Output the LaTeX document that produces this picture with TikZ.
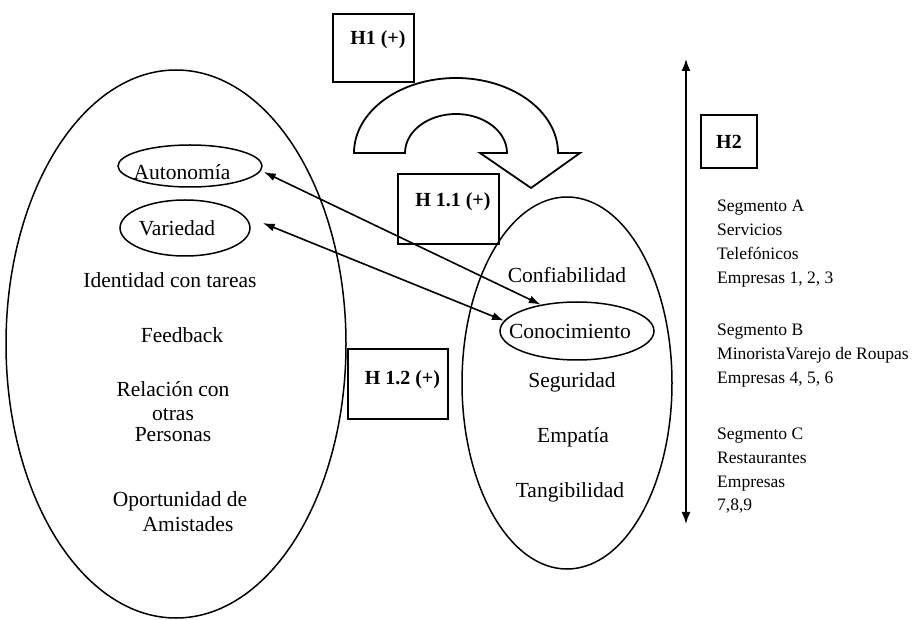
\documentclass[tikz,border=0pt]{standalone}
\usepackage{fontspec}
\setmainfont{Liberation Serif}
\usetikzlibrary{arrows.meta,shapes.geometric}
\begin{document}
\begin{tikzpicture}[x=1pt,y=1pt,
  lbl/.style={font=\fontsize{21.5}{25}\selectfont, align=center, inner sep=0pt},
  oval/.style={draw, ellipse, line width=1.5pt, inner sep=0pt},
  hbox/.style={draw, line width=1.8pt, font=\fontsize{20}{24}\selectfont\bfseries, inner xsep=0pt, anchor=north west},
  seg/.style={font=\fontsize{17.5}{24}\selectfont, align=left, inner sep=0pt, anchor=base west},
  dbl/.style={line width=1.6pt, {Latex[length=12pt,width=8pt]}-{Latex[length=12pt,width=8pt]}}
]
\useasboundingbox (0,0) rectangle (916,619);

% big ellipses
\node[oval, minimum width=340pt, minimum height=548pt] (jobs) at (176,275) {};
\node[oval, minimum width=210pt, minimum height=372pt] (serv) at (567,236) {};

% left items
\node[oval, minimum width=144pt, minimum height=42pt,
      label={[lbl, xshift=-8pt, yshift=-6pt]center:Autonomía}] (auto) at (190,453) {};
\node[oval, minimum width=130pt, minimum height=56pt,
      label={[lbl, xshift=-8pt]center:Variedad}] (var) at (185,391) {};
\node[lbl] (ident) at (170,339) {Identidad con tareas};
\node[lbl] (feed) at (182,284) {Feedback};
\node[lbl] (rel) at (173,207) {Relación con\\[-1pt] otras\\[-4pt] Personas};
\node[lbl] (oport) at (180,107) {Oportunidad de\\ \hspace*{16pt}Amistades};

% right items
\node[lbl] (conf) at (567,344) {Confiabilidad};
\node[oval, minimum width=154pt, minimum height=58pt,
      label={[lbl, xshift=-7pt]center:Conocimiento}] (conoc) at (577,288) {};
\node[lbl] (segu) at (572,237) {Seguridad};
\node[lbl] (emp) at (573,182) {Empatía};
\node[lbl] (tang) at (570,127) {Tangibilidad};

% hypothesis boxes
\node[hbox, minimum width=81pt, inner ysep=17pt, text height=13.5pt, text depth=20.5pt] (h1) at (332,606) {\hspace*{9pt}H1 (+)};
\node[hbox, minimum width=101pt, inner ysep=19.5pt, text height=13.2pt, text depth=17.8pt] (h11) at (397,446) {\hspace*{9pt}H 1.1 (+)};
\node[hbox, minimum width=100pt, inner ysep=22.4pt, text height=13.2pt, text depth=12pt] (h12) at (347,271) {\hspace*{9pt}H 1.2 (+)};
\node[draw, line width=1.8pt, font=\fontsize{20}{24}\selectfont\bfseries, minimum width=56pt, minimum height=53pt, inner sep=0pt] (h2) at (729,477.5) {H2};

% curved arrow
\draw[line width=1.8pt, line join=miter] (354,466) -- (405,466)
  arc[start angle=180, end angle=0, x radius=51pt, y radius=39pt]
  -- (480,466) -- (531,431) -- (580,466) -- (558,466)
  arc[start angle=0, end angle=180, x radius=102pt, y radius=75pt] -- cycle;

% double arrows between constructs
\draw[dbl] ([xshift=1pt,yshift=-6pt]auto.east) -- (conoc.144);
\draw[dbl] ([xshift=12pt,yshift=5pt]var.east) -- (conoc.172);

% vertical H2 arrow
\coordinate (vtop) at (686,560);
\coordinate (vbot) at (686,95);
\draw[line width=1.6pt, {Latex[length=12pt,width=9pt]}-{Latex[length=12pt,width=9pt]}] (vtop) -- (vbot);

% segments
\node[seg] (sa) at (717,335) {Segmento A\\Servicios\\Telefónicos\\Empresas 1, 2, 3};
\node[seg] (sb) at (717,235) {Segmento B\\MinoristaVarejo de Roupas\\Empresas 4, 5, 6};
\node[seg] (sc) at (717,108) {Segmento C\\Restaurantes\\Empresas\\7,8,9};
\end{tikzpicture}
\end{document}
